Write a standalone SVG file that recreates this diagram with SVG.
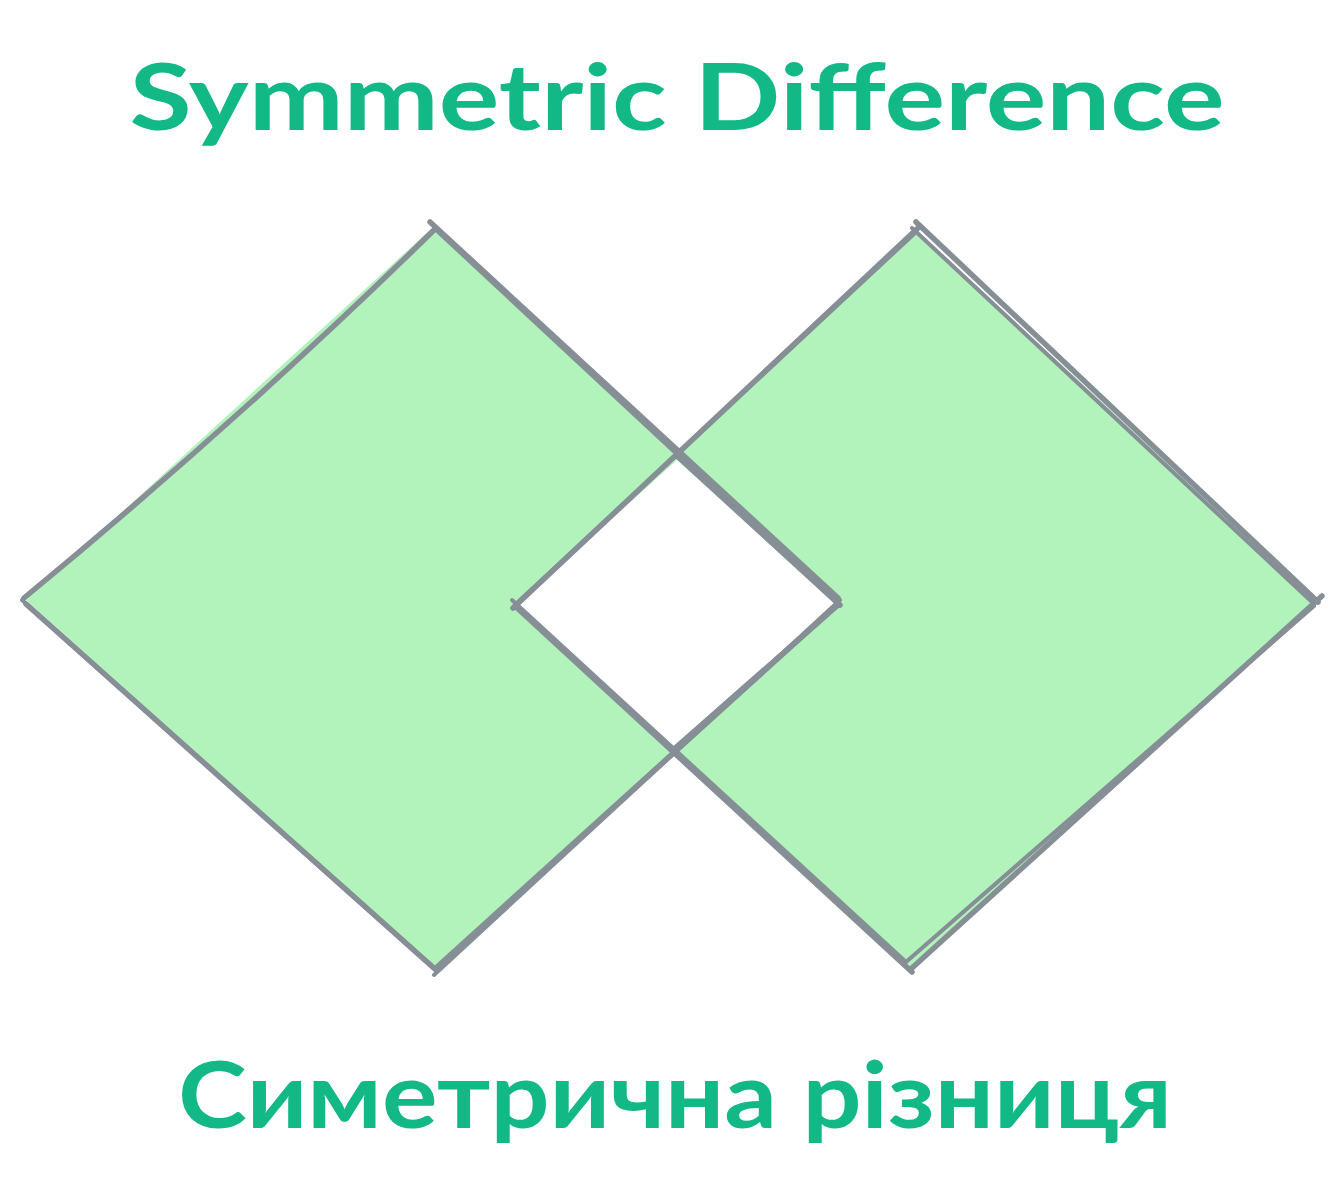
<svg xmlns="http://www.w3.org/2000/svg" width="1341" height="1194" viewBox="0 0 1341 1194">
<style>
.fill{fill:#b2f2bb;stroke:none}
.hole{fill:#ffffff;stroke:none}
.sk{fill:none;stroke:#868e96;stroke-width:5.5;stroke-linecap:round;stroke-linejoin:round}
.sk2{fill:none;stroke:#868e96;stroke-width:4;stroke-linecap:round;stroke-linejoin:round}
.t{fill:#12b886;font-family:"Lato","Liberation Sans",sans-serif;font-weight:bold;text-anchor:middle}
</style>
<rect width="1341" height="1194" fill="#ffffff"/>
<g id="left-diamond">
<path class="fill" d="M432 228 L838 602 L436 968 L26 600 Z"/>
</g>
<g id="right-diamond">
<path class="fill" d="M914 228 L1316 600 L912 970 L515 605 Z"/>
</g>
<g id="overlap">
<path class="hole" d="M677 460 L838 603 L673 748 L515 606 Z"/>
</g>
<g id="connectors">
<path class="sk" d="M430 222 L838 598"/>
<path class="sk2" d="M434 228 L840 606"/>
<path class="sk" d="M838 604 L436 968"/>
<path class="sk2" d="M840 600 L434 975"/>
<path class="sk" d="M436 970 L26 604"/>
<path class="sk2" d="M432 966 L22 600"/>
<path class="sk" d="M24 598 Q240 420 434 230"/>
<path class="sk" d="M916 222 L1318 602"/>
<path class="sk2" d="M912 228 L1312 602"/>
<path class="sk" d="M1322 596 L912 968"/>
<path class="sk2" d="M1314 606 L906 962"/>
<path class="sk" d="M912 972 L515 606"/>
<path class="sk2" d="M906 962 L512 600"/>
<path class="sk" d="M513 608 L918 228"/>
<path class="sk2" d="M518 602 L914 234"/>
<path class="sk" d="M676 455 L840 605"/>
<path class="sk" d="M673 750 L838 605"/>
</g>
<g id="title">
<text class="t" x="677" y="130" font-size="92" textLength="1095" lengthAdjust="spacingAndGlyphs">Symmetric Difference</text>
</g>
<g id="subtitle">
<text class="t" x="675" y="1128" font-size="92" textLength="994" lengthAdjust="spacingAndGlyphs">Симетрична різниця</text>
</g>
</svg>
